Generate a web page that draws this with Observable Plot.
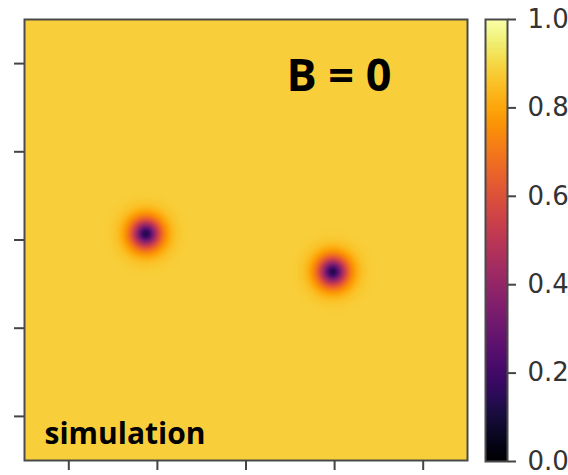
<!DOCTYPE html>
<html>
<head>
<meta charset="utf-8">
<script src="https://cdn.jsdelivr.net/npm/d3@7"></script>
<script src="https://cdn.jsdelivr.net/npm/@observablehq/plot@0.6"></script>
<style>
  html, body { margin: 0; padding: 0; background: #fff; }
  #wrap { position: relative; width: 568px; height: 475px; overflow: hidden; }
  #main { position: absolute; left: 0; top: 0; }
  #bar { position: absolute; left: 475px; top: 0; }
</style>
</head>
<body>
<div id="wrap"><div id="main"></div><div id="bar"></div></div>
<script>
// Field description
const vortexX = [-1.13, 0.98];
const vortexY = [0.07, -0.36];
const vortexCore = [0.12, 0.12];
const vortexRadius = [0.16, 0.16];
const backgroundLevel = 0.885;
const xTicks = [-2, -1, 0, 1, 2];
const yTicks = [-2, -1, 0, 1, 2];
const colorTicks = [0, 0.2, 0.4, 0.6, 0.8, 1.0];
const fieldLabel = ["B = 0"];
const cornerLabel = ["simulation"];

function field(x, y) {
  let v = backgroundLevel;
  for (let i = 0; i < vortexX.length; i++) {
    const r = Math.hypot(x - vortexX[i], y - vortexY[i]);
    const depth = 1 - vortexCore[i] / backgroundLevel;
    v *= 1 - depth * Math.exp(-Math.pow(r / vortexRadius[i], 1.6));
  }
  return v;
}

const colorScale = {type: "linear", scheme: "inferno", domain: [0, 1]};

const main = Plot.plot({
  width: 475,
  height: 475,
  marginLeft: 24,
  marginRight: 8,
  marginTop: 19,
  marginBottom: 15,
  x: {domain: [-2.5, 2.5]},
  y: {domain: [-2.5, 2.5]},
  color: colorScale,
  style: {background: "transparent"},
  marks: [
    Plot.raster({x1: -2.5, x2: 2.5, y1: -2.5, y2: 2.5, fill: field, pixelSize: 1}),
    Plot.frame({stroke: "#4a4a4a", strokeWidth: 2}),
    Plot.axisX({ticks: xTicks, tickSize: 10, tickFormat: () => "", stroke: "#444", strokeWidth: 2}),
    Plot.axisY({ticks: yTicks, tickSize: 10, tickFormat: () => "", stroke: "#444", strokeWidth: 2}),
    Plot.text(fieldLabel, {frameAnchor: "top-right", dx: -76, dy: 57, lineAnchor: "middle", textAnchor: "end",
      fontFamily: "Open Sans", fontWeight: 700, fontSize: 45, fill: "#000"}),
    Plot.text(cornerLabel, {frameAnchor: "bottom-left", dx: 20, dy: -17, lineAnchor: "bottom", textAnchor: "start",
      fontFamily: "Open Sans", fontWeight: 700, fontSize: 30, fill: "#000"})
  ]
});
document.getElementById("main").appendChild(main);

const bar = Plot.plot({
  width: 93,
  height: 475,
  marginLeft: 10,
  marginRight: 61,
  marginTop: 19,
  marginBottom: 14,
  x: {domain: [0, 1], axis: null},
  y: {domain: [0, 1]},
  color: colorScale,
  style: {background: "transparent"},
  marks: [
    Plot.raster({x1: 0, x2: 1, y1: 0, y2: 1, fill: (x, y) => y, pixelSize: 1}),
    Plot.frame({stroke: "#4a4a4a", strokeWidth: 2}),
    Plot.axisY({anchor: "right", ticks: colorTicks, tickFormat: d3.format(".1f"), tickSize: 8, tickPadding: 12,
      stroke: "#444", strokeWidth: 2, fill: "#333", fontSize: 26, fontFamily: "DejaVu Sans", label: null})
  ]
});
document.getElementById("bar").appendChild(bar);
</script>
</body>
</html>
